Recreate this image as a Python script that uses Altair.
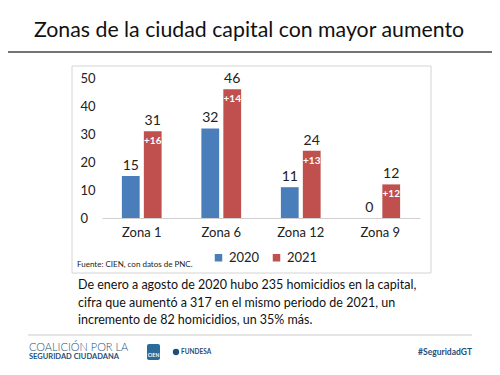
import altair as alt
import pandas as pd

zonas = ["Zona 1", "Zona 6", "Zona 12", "Zona 9"]
v2020 = [15, 32, 11, 0]
v2021 = [31, 46, 24, 12]
aumento = ["+16", "+14", "+13", "+12"]
years = ["2020", "2021"]
colors = ["#4a7ebb", "#c0504d"]
y_ticks = [0, 10, 20, 30, 40, 50]

title_text = "Zonas de la ciudad capital con mayor aumento"
fuente = "Fuente: CIEN, con datos de PNC."
parrafo = [
    "De enero a agosto de 2020 hubo 235 homicidios en la capital,",
    "cifra que aumentó a 317 en el mismo periodo de 2021, un",
    "incremento de 82 homicidios, un 35% más.",
]

rows = []
for z, a, b, d in zip(zonas, v2020, v2021, aumento):
    rows.append({"zona": z, "year": "2020", "value": a, "lab": str(a), "diff": ""})
    rows.append({"zona": z, "year": "2021", "value": b, "lab": str(b), "diff": d})
df = pd.DataFrame(rows)

FONT = "Lato"

xs = alt.X("zona:N", sort=zonas,
           scale=alt.Scale(paddingInner=0.5, paddingOuter=0.25),
           axis=alt.Axis(title=None, labelAngle=0, labelFontSize=13, labelColor="#222",
                         labelFont=FONT, ticks=False, domainColor="#d0d0d0",
                         labelPadding=8, grid=False, zindex=1))
xo = alt.XOffset("year:N", sort=years, scale=alt.Scale(paddingInner=0.19, paddingOuter=0))
ys = alt.Y("value:Q", scale=alt.Scale(domain=[0, 50], nice=False),
           axis=alt.Axis(title=None, values=y_ticks, grid=False, domain=False, ticks=False,
                         labelAlign="left", labelPadding=22, labelFontSize=13,
                         labelColor="#222", labelFont=FONT, zindex=1,
                         labelOverlap=False, labelBound=False, labelFlush=False))
col = alt.Color("year:N", sort=years, scale=alt.Scale(domain=years, range=colors),
                legend=alt.Legend(title=None, orient="none", legendX=110, legendY=173,
                                  direction="horizontal", symbolType="square",
                                  symbolSize=56, symbolStrokeWidth=0, labelFontSize=13,
                                  labelFont=FONT, labelColor="#222", columnPadding=10,
                                  symbolOpacity=1))

base = alt.Chart(df)

one = pd.DataFrame({"k": [0]})

box = alt.Chart(one).mark_rect(fill="white", stroke="#d4d4d4", strokeWidth=1).encode(
    x=alt.value(-30), x2=alt.value(329), y=alt.value(-12), y2=alt.value(195))

bars = base.mark_bar().encode(x=xs, xOffset=xo, y=ys, color=col)

vals = base.mark_text(dy=-10, fontSize=14, color="#222", font=FONT).encode(
    x=xs, xOffset=xo, y=ys, text="lab:N")

diffs = base.mark_text(baseline="top", dy=5, fontSize=10, fontWeight="bold",
                       color="white", font=FONT).encode(
    x=xs, xOffset=xo, y=ys, text="diff:N")

title = alt.Chart(pd.DataFrame({"t": [title_text]})).mark_text(
    fontSize=21.3, font="Lato", color="#111", align="center", baseline="middle").encode(
    x=alt.value(147), y=alt.value(-47), text="t:N")

tline = alt.Chart(one).mark_rule(color="#444", strokeWidth=1.5).encode(
    x=alt.value(-94), x2=alt.value(390), y=alt.value(-26))

src = alt.Chart(pd.DataFrame({"t": [fuente]})).mark_text(
    fontSize=8, font=FONT, color="#222", align="left", baseline="middle").encode(
    x=alt.value(-25), y=alt.value(187), text="t:N")

para = alt.Chart(pd.DataFrame({"t": [parrafo]})).mark_text(
    fontSize=12.5, font=FONT, color="#111", align="left", baseline="middle",
    lineHeight=17.5).encode(x=alt.value(-24), y=alt.value(207), text="t:N")

fline = alt.Chart(one).mark_rule(color="#dcdcdc", strokeWidth=1.5).encode(
    x=alt.value(-74), x2=alt.value(370), y=alt.value(257))

coal1 = alt.Chart(pd.DataFrame({"t": ["COALICIÓN POR LA"]})).mark_text(
    fontSize=11, font=FONT, fontWeight=300, color="#1f4e79", align="left",
    baseline="middle").encode(x=alt.value(-73), y=alt.value(270), text="t:N")
coal2 = alt.Chart(pd.DataFrame({"t": ["SEGURIDAD CIUDADANA"]})).mark_text(
    fontSize=7.5, font=FONT, fontWeight="bold", color="#1f4e79", align="left",
    baseline="middle").encode(x=alt.value(-73), y=alt.value(279), text="t:N")

cien_box = alt.Chart(one).mark_rect(fill="#2a6b9a", cornerRadius=2).encode(
    x=alt.value(45), x2=alt.value(58), y=alt.value(266), y2=alt.value(282))
cien_txt = alt.Chart(pd.DataFrame({"t": ["CIEN"]})).mark_text(
    fontSize=5, font=FONT, fontWeight="bold", color="white", align="center",
    baseline="middle").encode(x=alt.value(51.5), y=alt.value(277), text="t:N")
fund_icon = alt.Chart(one).mark_point(filled=True, size=40, color="#1f4e79", opacity=1).encode(
    x=alt.value(74), y=alt.value(274))
fund_txt = alt.Chart(pd.DataFrame({"t": ["FUNDESA"]})).mark_text(
    fontSize=6.5, font=FONT, fontWeight="bold", color="#1f4e79", align="left",
    baseline="middle").encode(x=alt.value(79), y=alt.value(274), text="t:N")

hashtag = alt.Chart(pd.DataFrame({"t": ["#SeguridadGT"]})).mark_text(
    fontSize=8.5, font=FONT, fontWeight="bold", color="#1f4e79",
    align="right", baseline="middle").encode(x=alt.value(370), y=alt.value(274), text="t:N")

chart = alt.layer(
    box, bars, vals, diffs, title, tline, src, para, fline,
    coal1, coal2, cien_box, cien_txt, fund_icon, fund_txt, hashtag
).properties(
    width=318, height=140,
    autosize=alt.AutoSizeParams(type="none"),
    padding={"left": 94, "top": 70, "right": 72, "bottom": 149},
).configure_view(stroke=None).configure(background="white")

chart.save("out.html", embed_options={"renderer": "svg", "actions": False})
